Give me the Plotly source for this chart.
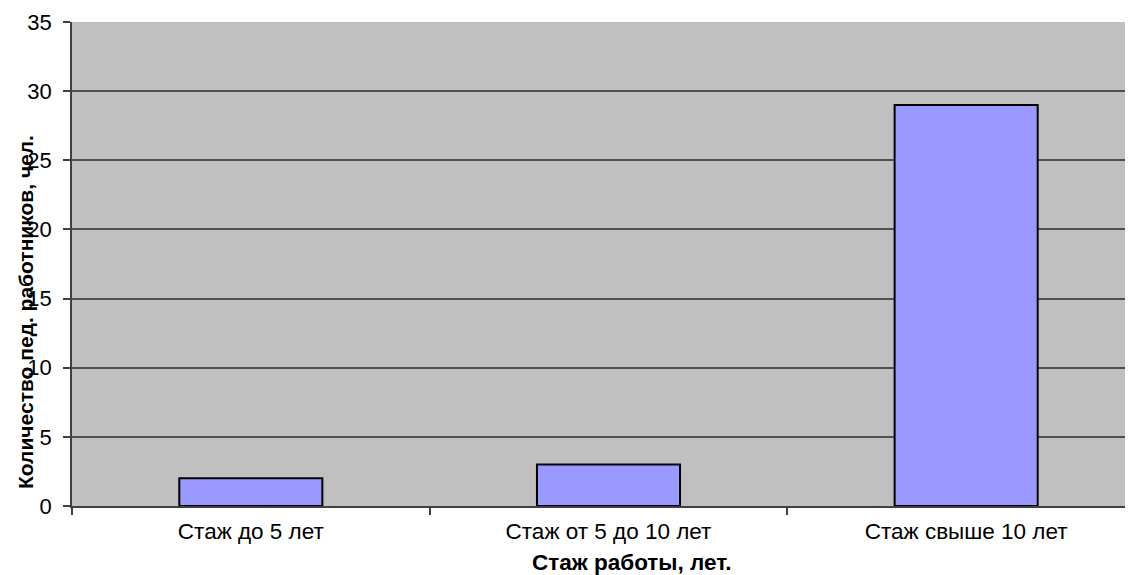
import plotly.graph_objects as go

categories = ["Стаж до 5 лет", "Стаж от 5 до 10 лет", "Стаж свыше 10 лет"]
values = [2, 3, 29]
x_title = "Стаж работы, лет."
y_title = "Количество пед. работников, чел."

OFF = 8  # page body margin
W, H = 1133 - OFF, 575 - OFF
L, T, R = 72 - OFF, 22 - OFF, 0
B = H - (506 - OFF)
pw = W - L - R
ph = H - T - B

def px_x(x):
    return (x - OFF - L) / pw

def px_y(y):
    return (H - B - (y - OFF)) / ph

fig = go.Figure()
fig.add_trace(go.Bar(
    x=categories, y=values,
    marker=dict(color="#9999FF", line=dict(color="#000000", width=2)),
    width=0.4,
))

font = "Liberation Sans, Arial, sans-serif"
fs = 21
fig.update_layout(
    width=W, height=H,
    margin=dict(l=L, r=R, t=T, b=B, pad=0),
    paper_bgcolor="white",
    plot_bgcolor="#C0C0C0",
    showlegend=False,
    font=dict(family=font, size=fs, color="#000000"),
    xaxis=dict(
        type="category",
        range=[-0.5, 2.5 - 12 / 358],
        tickson="boundaries",
        ticks="outside", ticklen=7, tickcolor="#404040", tickwidth=1.5,
        showline=True, linecolor="#404040", linewidth=1.5,
        showgrid=False,
        tickfont=dict(family=font, size=22.5),
        ticklabelstandoff=4,
        fixedrange=True,
    ),
    yaxis=dict(
        range=[0, 35],
        tickvals=[0, 5, 10, 15, 20, 25, 30, 35],
        ticks="outside", ticklen=7, tickcolor="#404040", tickwidth=1.5,
        showline=True, linecolor="#404040", linewidth=1.5,
        showgrid=True, gridcolor="#505050", gridwidth=1.5,
        zeroline=False,
        tickfont=dict(family=font, size=22),
        ticklabelstandoff=7,
    ),
    annotations=[
        dict(text="<b>" + y_title + "</b>", textangle=-90, xref="paper", yref="paper",
             x=px_x(25), y=px_y(312), xanchor="center", yanchor="middle",
             showarrow=False, font=dict(family=font, size=21, color="#000000")),
        dict(text="<b>" + x_title + "</b>", xref="paper", yref="paper",
             x=px_x(632), y=px_y(562), xanchor="center", yanchor="middle",
             showarrow=False, font=dict(family=font, size=22.5, color="#000000")),
    ],
)

fig.write_html("out.html")
